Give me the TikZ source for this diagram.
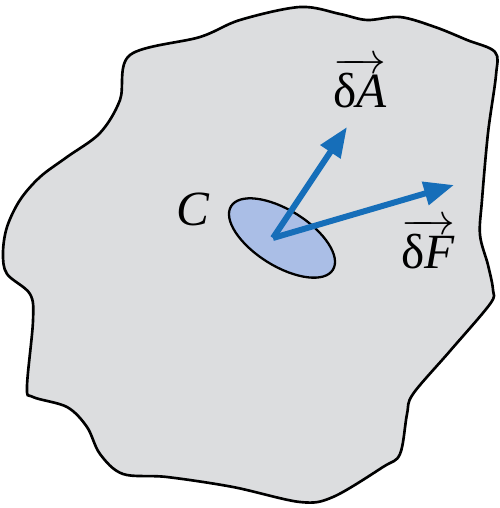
\documentclass[tikz,border=0pt]{standalone}
\usepackage{amsmath,amssymb}
\usepackage{fontspec}
\setmainfont{Liberation Serif}
\usepackage{tikz}
\usetikzlibrary{arrows.meta,positioning,calc}
\definecolor{bodygray}{RGB}{220,221,223}
\definecolor{patchblue}{RGB}{170,190,230}
\definecolor{vecblue}{RGB}{22,110,185}
\newcommand{\vlab}[1]{\fontsize{28}{32}\selectfont$\overrightarrow{\text{δ\textit{#1}}}$}
\tikzset{
  body/.style={fill=bodygray, draw=black, line width=1.5pt},
  patch/.style={fill=patchblue, draw=black, line width=1.3pt},
  vec/.style={-{Triangle[length=6mm, width=4.6mm]}, vecblue, line width=3.4pt},
  vlabel/.style={inner sep=1pt},
}

\begin{document}
\begin{tikzpicture}
\useasboundingbox (0,0) rectangle (10,10.16);
\draw[body] plot[smooth cycle, tension=0.55] coordinates {
  (2.6,9.06) (4.0,9.42) (4.8,9.76) (6.0,10.02) (6.8,9.88) (7.34,9.76)
  (8.0,9.82) (8.7,9.62) (9.34,9.36) (9.9,9.12) (9.92,8.66) (9.76,7.5)
  (9.64,6.16) (9.6,5.46) (9.76,4.86) (9.86,4.36) (9.8,4.08) (9.0,3.14)
  (8.26,2.28) (8.14,1.88) (8.0,1.08) (7.66,0.82) (6.66,0.22) (6.0,0.12)
  (4.66,0.42) (3.34,0.62) (2.46,0.68) (2.0,1.08) (1.74,1.62) (1.34,2.02)
  (0.66,2.22) (0.54,2.42) (0.66,3.74) (0.6,4.28) (0.14,4.68) (0.06,5.1)
  (0.14,5.62) (0.4,6.16) (0.8,6.62) (1.34,7.02) (2.0,7.5) (2.4,8.16)};
\draw[patch, rotate around={-32:(5.64,5.40)}] (5.64,5.40) ellipse (1.2cm and 0.56cm);
\coordinate (orig) at (5.46,5.40);
\coordinate (tipA) at (6.94,7.62);
\coordinate (tipF) at (9.08,6.46);
\draw[vec] (orig) -- (tipA);
\draw[vec] (orig) -- (tipF);
\node[vlabel] (labA) at (7.2,8.5) {\vlab{A}};
\node[vlabel] (labF) at (8.56,5.28) {\vlab{F}};
\node (labC) at (3.86,5.98) {\fontsize{28}{32}\selectfont\textit{C}};
\end{tikzpicture}
\end{document}
